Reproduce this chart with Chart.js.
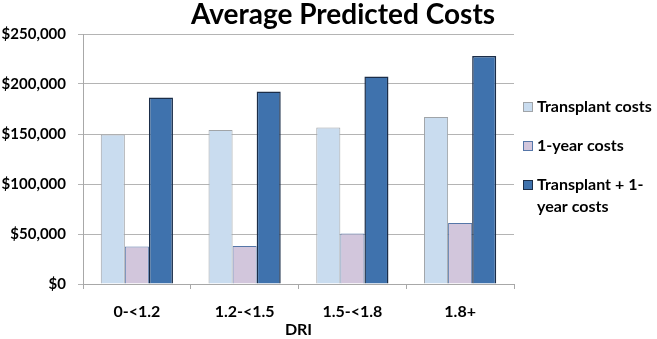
<!DOCTYPE html>
<html>
<head>
<meta charset="utf-8">
<script src="https://cdn.jsdelivr.net/npm/chart.js@4"></script>
<style>
  html, body { margin: 0; padding: 0; background: #fff; }
  #wrap { width: 657px; height: 339px; }
</style>
</head>
<body>
<div id="wrap"><canvas id="chart" width="657" height="339"></canvas></div>
<script>
const categories = ['0-<1.2', '1.2-<1.5', '1.5-<1.8', '1.8+'];
const transplantCosts = [149500, 154000, 156500, 167000];
const oneYearCosts = [37500, 38000, 50500, 61000];
const combinedCosts = [186500, 192500, 207500, 228000];
const yTicks = [0, 50000, 100000, 150000, 200000, 250000];

const font = 'Lato, "Open Sans", sans-serif';

// title sits right of canvas centre in the source, so draw it by hand
const titlePlugin = {
  id: 'sideTitle',
  afterDraw(chart) {
    const ctx = chart.ctx;
    ctx.save();
    ctx.font = 'bold 28px ' + font;
    ctx.fillStyle = '#000';
    ctx.textAlign = 'center';
    ctx.textBaseline = 'middle';
    ctx.fillText('Average Predicted Costs', 343, 15);
    ctx.restore();
  }
};

// legend to the right of the plot, items placed like the original
const legendPlugin = {
  id: 'sideLegend',
  afterDraw(chart) {
    const ctx = chart.ctx;
    const x = chart.chartArea.right + 9;
    let y = 107;
    ctx.save();
    ctx.font = 'bold 16px ' + font;
    ctx.textBaseline = 'middle';
    ctx.textAlign = 'left';
    chart.data.datasets.forEach(ds => {
      ctx.fillStyle = ds.backgroundColor;
      ctx.fillRect(x + 0.5, y - 4.5, 9, 9);
      ctx.strokeStyle = ds.borderColor;
      ctx.lineWidth = 1;
      ctx.strokeRect(x + 0.5, y - 4.5, 9, 9);
      ctx.fillStyle = '#000';
      const lines = [].concat(ds.label);
      lines.forEach((line, i) => ctx.fillText(line, x + 14, y + i * 22));
      y += 39;
    });
    ctx.restore();
  }
};

new Chart(document.getElementById('chart'), {
  type: 'bar',
  data: {
    labels: categories,
    datasets: [
      {
        label: 'Transplant costs',
        data: transplantCosts,
        backgroundColor: '#c9dcef',
        borderColor: '#a0a4a8',
        borderWidth: 1
      },
      {
        label: '1-year costs',
        data: oneYearCosts,
        backgroundColor: '#d2c6dc',
        borderColor: '#5576a8',
        borderWidth: 1
      },
      {
        label: ['Transplant + 1-', 'year costs'],
        data: combinedCosts,
        backgroundColor: '#3f72ad',
        borderColor: '#1b2d48',
        borderWidth: 1.5
      }
    ]
  },
  options: {
    responsive: false,
    animation: false,
    categoryPercentage: 0.67,
    barPercentage: 1,
    layout: { padding: { top: 34, left: 0, right: 143, bottom: 0 } },
    plugins: {
      title: { display: false },
      tooltip: { enabled: false },
      legend: { display: false }
    },
    scales: {
      x: {
        afterFit(scale) { scale.height = 55; },
        grid: {
          display: true,
          drawOnChartArea: false,
          offset: true,
          color: '#a8a8a8',
          tickLength: 5
        },
        border: { color: '#a8a8a8' },
        ticks: {
          color: '#000',
          padding: 13,
          font: { family: font, size: 16, weight: 'bold' }
        },
        title: {
          display: true,
          text: 'DRI',
          color: '#000',
          padding: { top: 0, bottom: 0 },
          font: { family: font, size: 16, weight: 'bold' }
        }
      },
      y: {
        min: 0,
        max: 250000,
        afterFit(scale) { scale.width = 83; },
        afterBuildTicks(scale) {
          scale.ticks = yTicks.map(v => ({ value: v }));
        },
        grid: { color: '#b4b4b4', tickLength: 5 },
        border: { color: '#a8a8a8' },
        ticks: {
          color: '#000',
          padding: 12,
          font: { family: font, size: 15, weight: 'bold' },
          callback: v => '$' + v.toLocaleString('en-US')
        }
      }
    }
  },
  plugins: [titlePlugin, legendPlugin]
});
</script>
</body>
</html>
